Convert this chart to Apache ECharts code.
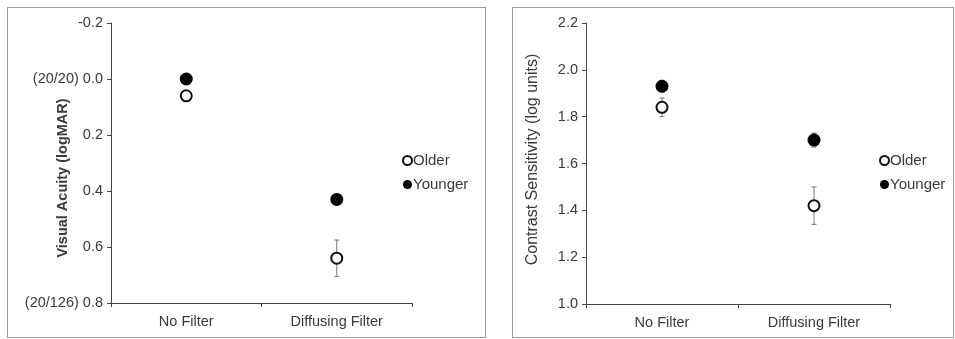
<!DOCTYPE html>
<html><head><meta charset="utf-8">
<script src="https://cdn.jsdelivr.net/npm/echarts@6/dist/echarts.min.js"></script>
<style>
html,body{margin:0;padding:0;background:#fff;width:955px;height:339px;overflow:hidden;}
.panel{position:absolute;border:1px solid #9a9a9a;box-sizing:border-box;}
</style></head><body>
<div id="c1" class="panel" style="left:7px;top:7px;width:479px;height:331px;"></div>
<div id="c2" class="panel" style="left:512px;top:7px;width:442px;height:331px;"></div>
<script>
const categories = ["No Filter", "Diffusing Filter"];
const seriesNames = ["Older", "Younger"];
// Visual acuity (logMAR)
const vaOlder = [0.06, 0.64];
const vaOlderErr = [0.015, 0.065];
const vaYounger = [0.0, 0.43];
const vaYoungerErr = [0.01, 0.015];
const vaTicks = {"-0.2": "-0.2", "0": "(20/20) 0.0", "0.2": "0.2", "0.4": "0.4", "0.6": "0.6", "0.8": "(20/126) 0.8"};
// Contrast sensitivity (log units)
const csOlder = [1.84, 1.42];
const csOlderErr = [0.04, 0.08];
const csYounger = [1.93, 1.70];
const csYoungerErr = [0.025, 0.03];

const FONT = "Liberation Sans, Arial, sans-serif";
const TXT = "#3a3a3a";
const FS = 14.5;

function errSeries(vals, errs) {
  return {
    type: 'custom', silent: true, z: 1,
    data: vals.map((v, i) => [i, v - errs[i], v + errs[i]]),
    renderItem: function (params, api) {
      const lo = api.coord([api.value(0), api.value(1)]);
      const hi = api.coord([api.value(0), api.value(2)]);
      const w = 2.5;
      const st = {stroke: '#777', lineWidth: 1};
      return {type: 'group', children: [
        {type: 'line', shape: {x1: lo[0], y1: lo[1], x2: hi[0], y2: hi[1]}, style: st},
        {type: 'line', shape: {x1: lo[0] - w, y1: lo[1], x2: lo[0] + w, y2: lo[1]}, style: st},
        {type: 'line', shape: {x1: hi[0] - w, y1: hi[1], x2: hi[0] + w, y2: hi[1]}, style: st}
      ]};
    }
  };
}

function makeOption(cfg) {
  return {
    animation: false,
    grid: cfg.grid,
    legend: {
      data: seriesNames, orient: 'vertical', left: cfg.legendLeft, top: 140,
      icon: 'circle', itemWidth: 9, itemHeight: 9, itemGap: 9,
      textStyle: {fontFamily: FONT, fontSize: 15, color: TXT, padding: [0, 0, 0, -4]}
    },
    xAxis: {
      type: 'category', data: categories, boundaryGap: true,
      axisLine: {onZero: false, lineStyle: {color: '#444', width: 1}},
      axisTick: {show: true, alignWithLabel: false, length: 4, lineStyle: {color: '#444'}},
      axisLabel: {fontFamily: FONT, fontSize: FS, color: TXT, margin: 11}
    },
    yAxis: {
      type: 'value', min: cfg.min, max: cfg.max, interval: 0.2, inverse: cfg.inverse,
      name: cfg.yName, nameLocation: 'middle', nameGap: cfg.nameGap, nameMoveOverlap: false,
      nameTextStyle: {fontFamily: FONT, fontSize: cfg.nameSize, color: TXT, fontWeight: cfg.nameWeight, padding: cfg.namePad},
      axisLine: {show: true, lineStyle: {color: '#444', width: 1}},
      axisTick: {show: true, length: 4, lineStyle: {color: '#444'}},
      splitLine: {show: false},
      axisLabel: {fontFamily: FONT, fontSize: FS, color: TXT, margin: 8, formatter: cfg.fmt}
    },
    series: [
      errSeries(cfg.older, cfg.olderErr),
      errSeries(cfg.younger, cfg.youngerErr),
      {name: 'Older', type: 'scatter', z: 3, symbol: 'circle', symbolSize: 11,
       itemStyle: {color: '#fff', borderColor: '#111', borderWidth: 2, opacity: 1},
       data: cfg.older.map((v, i) => [i, v])},
      {name: 'Younger', type: 'scatter', z: 4, symbol: 'circle', symbolSize: 13,
       itemStyle: {color: '#000', opacity: 1},
       data: cfg.younger.map((v, i) => [i, v])}
    ]
  };
}

const c1 = echarts.init(document.getElementById('c1'), null, {renderer: 'canvas'});
c1.setOption(makeOption({
  grid: {left: 103, top: 15, right: 73, bottom: 34},
  legendLeft: 389, min: -0.2, max: 0.8, inverse: true,
  yName: 'Visual Acuity (logMAR)', nameGap: 41, nameWeight: 'bold', nameSize: 14.5, namePad: [0, 30, 0, 0],
  fmt: v => { const k = String(Math.round(v * 10) / 10); return vaTicks[k] !== undefined ? vaTicks[k] : v.toFixed(1); },
  older: vaOlder, olderErr: vaOlderErr, younger: vaYounger, youngerErr: vaYoungerErr
}));
const c2 = echarts.init(document.getElementById('c2'), null, {renderer: 'canvas'});
c2.setOption(makeOption({
  grid: {left: 73, top: 15, right: 63, bottom: 33},
  legendLeft: 361, min: 1.0, max: 2.2, inverse: false,
  yName: 'Contrast Sensitivity (log units)', nameGap: 45, nameWeight: 'normal', nameSize: 16, namePad: [0, 0, 0, 8],
  fmt: v => v.toFixed(1),
  older: csOlder, olderErr: csOlderErr, younger: csYounger, youngerErr: csYoungerErr
}));
</script>
</body></html>
